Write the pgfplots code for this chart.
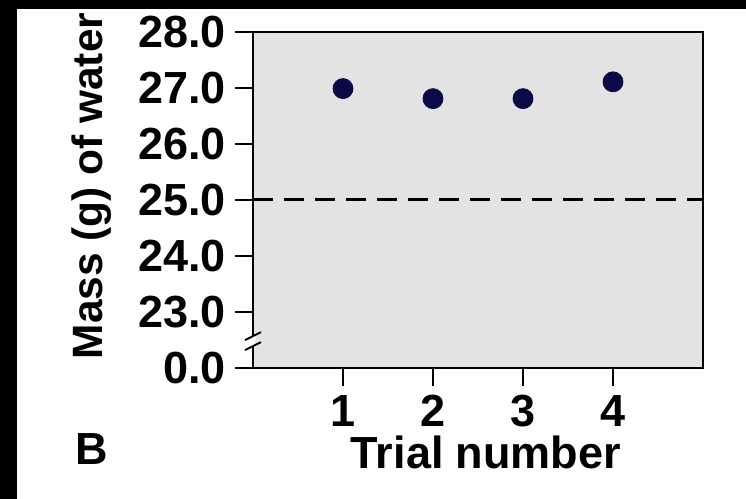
\documentclass[border=0pt]{standalone}
\usepackage{pgfplots}
\pgfplotsset{compat=1.18}
\usetikzlibrary{calc}
\usepackage{fontspec}
\setmainfont{Liberation Sans}
\definecolor{dotblue}{HTML}{0A0A46}
\definecolor{panelgray}{HTML}{E3E3E3}
\newcommand{\lbl}{\fontsize{22.5}{27}\selectfont\bfseries}
\begin{document}
\begin{tikzpicture}[x=1pt,y=1pt]
% background (pixel -> pt: x*0.5, (499-y)*0.5)
\fill[white] (0,0) rectangle (373,249.5);
\fill[black] (0,0) rectangle (8.5,249.5);
\fill[black] (0,245) rectangle (373,249.5);
\begin{axis}[
  at={(126.5pt,65.5pt)}, anchor=south west,
  scale only axis, width=225pt, height=168pt,
  xmin=0, xmax=5, ymin=22, ymax=28,
  xtick={1,2,3,4},
  ytick={22,23,24,25,26,27,28},
  yticklabels={0.0,23.0,24.0,25.0,26.0,27.0,28.0},
  tick align=outside, tick pos=left,
  major tick length=9pt,
  axis line style={line width=1.2pt},
  every tick/.style={black, line width=1pt},
  axis background/.style={fill=panelgray},
  /pgf/number format/assume math mode=true,
  tick label style={font=\lbl},
  yticklabel style={inner sep=0pt, xshift=-4.5pt},
  xticklabel style={inner sep=0pt, text depth=0pt, yshift=-4.5pt},
  clip=false,
]
\addplot[black, line width=1.5pt, dash pattern=on 10pt off 5.5pt] coordinates {(0,25) (5,25)};
\addplot[only marks, mark=*, mark size=5pt, color=dotblue] coordinates {
  (1,26.99) (2,26.81) (3,26.81) (4,27.11)
};
\coordinate (brk) at (axis cs:0,22.48);
\end{axis}
% axis break marks
\fill[white] ($(brk)+(-1.2,-3.5)$) -- ($(brk)+(1.2,-1.2)$) -- ($(brk)+(1.2,3.5)$) -- ($(brk)+(-1.2,1.2)$) -- cycle;
\draw[line width=0.9pt] ($(brk)+(-4,-4.5)$) -- ($(brk)+(4,-0.5)$);
\draw[line width=0.9pt] ($(brk)+(-4,0.5)$) -- ($(brk)+(4,4.5)$);
% labels
\node[rotate=90, anchor=base, inner sep=0pt, font=\fontsize{21.2}{25}\selectfont\bfseries] at (51.5,156.5) {Mass (g) of water};
\node[anchor=base, inner sep=0pt, text height=16.5pt, font=\lbl] at (243,15.5) {Trial number};
\node[anchor=base west, inner sep=0pt, font=\lbl] at (37.5,17) {B};
\pgfresetboundingbox
\useasboundingbox (0,0) rectangle (373,249.5);
\end{tikzpicture}
\end{document}
